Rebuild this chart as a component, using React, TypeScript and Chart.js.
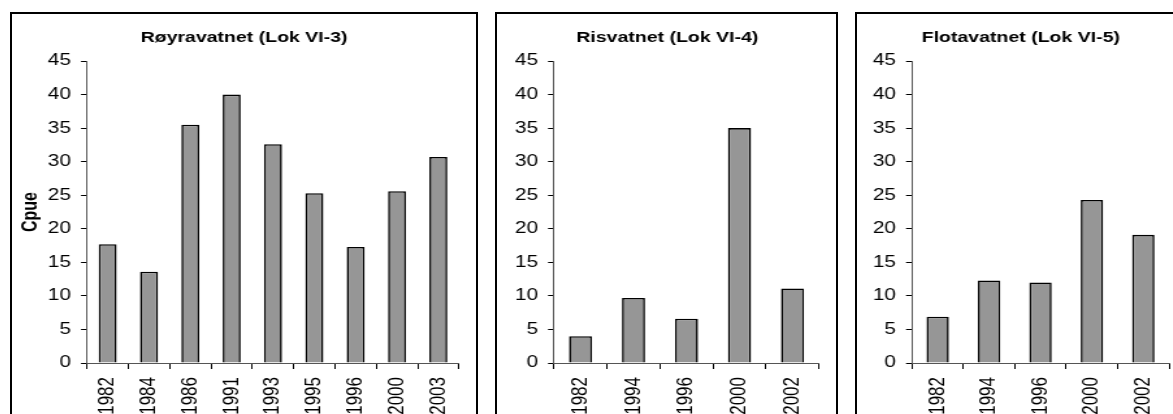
import React, { useEffect, useRef } from "react";
import { Chart, registerables } from "chart.js";

Chart.register(...registerables);

// ---- data ----
const categoriesA = ["1982", "1984", "1986", "1991", "1993", "1995", "1996", "2000", "2003"];
const valuesA = [17.7, 13.6, 35.5, 40.0, 32.6, 25.3, 17.3, 25.6, 30.7];
const categoriesB = ["1982", "1994", "1996", "2000", "2002"];
const valuesB = [4.0, 9.7, 6.6, 35.0, 11.1];
const categoriesC = ["1982", "1994", "1996", "2000", "2002"];
const valuesC = [6.9, 12.3, 12.0, 24.3, 19.1];
const titleA = "Røyravatnet (Lok VI-3)";
const titleB = "Risvatnet (Lok VI-4)";
const titleC = "Flotavatnet (Lok VI-5)";
const yTitle = "Cpue";
const yMin = 0;
const yMax = 45;
const yStep = 5;

const FONT = "'Liberation Sans', Arial, Helvetica, sans-serif";
const SX = 1.3;

type PanelProps = {
  left: number;
  width: number;
  axisW: number;
  padR: number;
  labels: string[];
  values: number[];
  title: string;
  yLabel?: string;
};

function Panel({ left, width, axisW, padR, labels, values, title, yLabel }: PanelProps) {
  const ref = useRef<HTMLCanvasElement | null>(null);
  useEffect(() => {
    if (!ref.current) return;
    const chart = new Chart(ref.current, {
      type: "bar",
      data: {
        labels,
        datasets: [
          {
            data: values,
            backgroundColor: "#969696",
            borderColor: "#000000",
            borderWidth: 1.6,
            barPercentage: 0.435,
            categoryPercentage: 1,
          },
        ],
      },
      options: {
        responsive: false,
        animation: false,
        devicePixelRatio: 1,
        layout: { padding: 0 },
        plugins: {
          legend: { display: false },
          tooltip: { enabled: false },
          title: {
            display: true,
            text: title,
            color: "#000",
            font: { family: FONT, size: 15, weight: "bold" },
            padding: { top: 15, bottom: 14 },
          },
        },
        scales: {
          x: {
            grid: {
              display: true,
              drawOnChartArea: false,
              drawTicks: true,
              tickLength: 6,
              color: "#000",
              offset: true,
            },
            border: { display: true, color: "#555", width: 1 },
            ticks: {
              autoSkip: false,
              minRotation: 90,
              maxRotation: 90,
              padding: 8,
              color: "#000",
              font: { family: FONT, size: 17 },
            },
            afterFit: (s: any) => {
              s.height = 67;
              s.paddingLeft = 0;
              s.paddingRight = padR;
            },
          },
          y: {
            min: yMin,
            max: yMax,
            ticks: {
              stepSize: yStep,
              padding: 7.7,
              color: "#000",
              font: { family: FONT, size: 16 },
            },
            grid: {
              drawOnChartArea: false,
              drawTicks: true,
              tickLength: 4.6,
              color: "#000",
            },
            border: { display: true, color: "#555", width: 1 },
            title: {
              display: !!yLabel,
              text: yLabel || "",
              color: "#000",
              font: { family: FONT, size: 16, weight: "bold" },
              padding: { top: 4.5, bottom: 0 },
            },
            afterFit: (s: any) => {
              s.width = axisW;
              s.paddingTop = 0;
              s.paddingBottom = 0;
            },
          },
        },
      } as any,
    });
    return () => chart.destroy();
  }, []);
  return (
    <canvas
      ref={ref}
      width={width}
      height={416}
      style={{
        position: "absolute",
        left,
        top: 14,
        width,
        height: 416,
        transform: `scaleX(${SX})`,
        transformOrigin: "0 0",
      }}
    />
  );
}

const frames = [
  { left: 10, width: 468 },
  { left: 495, width: 343 },
  { left: 855, width: 343 },
];

export default function App() {
  return (
    <div
      style={{
        position: "absolute",
        left: 0,
        top: 0,
        width: 1173,
        height: 414,
        overflow: "hidden",
        background: "#fff",
      }}
    >
      {frames.map((f, i) => (
        <div
          key={i}
          style={{
            position: "absolute",
            left: f.left,
            top: 12,
            width: f.width,
            height: 440,
            border: "2px solid #000",
            boxSizing: "border-box",
          }}
        />
      ))}
      <Panel left={12} width={357} axisW={57.69} padR={13.15} labels={categoriesA} values={valuesA} title={titleA} yLabel={yTitle} />
      <Panel left={497} width={262} axisW={43.85} padR={14.31} labels={categoriesB} values={valuesB} title={titleB} />
      <Panel left={857} width={252} axisW={42.31} padR={12} labels={categoriesC} values={valuesC} title={titleC} />
    </div>
  );
}
